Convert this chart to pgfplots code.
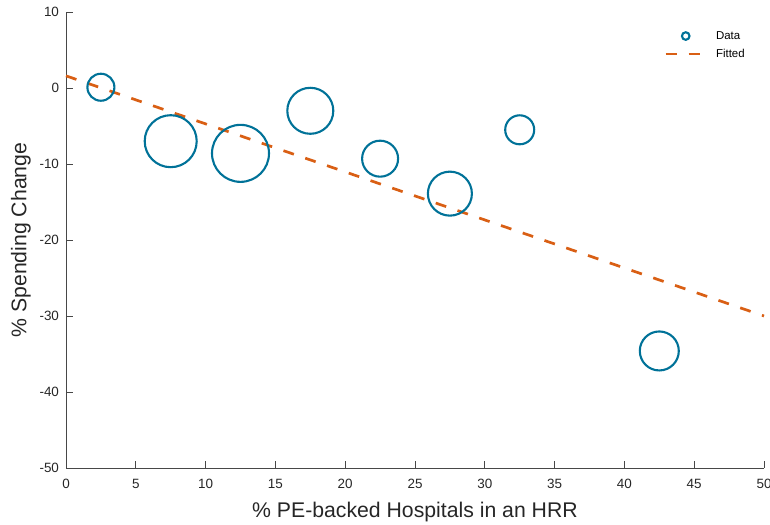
\documentclass[border=0pt]{standalone}
\usepackage{fontspec}
\setmainfont{Liberation Sans}
\usepackage{pgfplots}
\usepackage{pgfplotstable}
\pgfplotsset{compat=1.18}

\definecolor{dataBlue}{RGB}{0,114,152}
\definecolor{fitOrange}{RGB}{217,95,20}
\definecolor{axisGray}{RGB}{38,38,38}

% legend samples: a single ring, and a short dashed segment
\pgfplotsset{
  ringlegend/.style={legend image code/.code={\draw[##1] plot coordinates {(20bp,0bp)};}},
  dashlegend/.style={legend image code/.code={\draw[##1] (0bp,0bp) -- (35bp,0bp);}},
}

% x: share of PE-backed hospitals, y: spending change, r: marker radius (bp)
\pgfplotstableread{
x     y      r
2.5   0.1    13.5
7.5   -7.0   26
12.5  -8.6   28.5
17.5  -3.0   23
22.5  -9.3   18
27.5  -13.9  22
32.5  -5.5   14.5
42.5  -34.6  19.5
}\spending

\begin{document}
\begin{tikzpicture}
\begin{axis}[
  scale only axis,
  width=698bp, height=456bp,
  at={(0,0)}, anchor=south west,
  xmin=0, xmax=50, ymin=-50, ymax=10,
  xtick={0,5,...,50}, ytick={-50,-40,...,10},
  axis lines*=left,
  axis line style={draw=axisGray!85, line width=0.8bp},
  tick style={draw=axisGray!85, line width=0.8bp},
  tick align=inside,
  major tick length=7bp,
  /pgf/number format/assume math mode=true,
  ticklabel style={font=\fontsize{13.5}{16}\selectfont, text=axisGray},
  xticklabel style={anchor=north, yshift=-8bp},
  yticklabel style={anchor=east, xshift=-3.5bp},
  xlabel={\% PE-backed Hospitals in an HRR},
  ylabel={\% Spending Change},
  label style={font=\fontsize{21.3}{25}\selectfont, text=axisGray},
  xlabel style={at={(axis description cs:0.5,-0.1075)}, anchor=base},
  ylabel style={at={(axis description cs:-0.0567,0.5)}, anchor=base, rotate=0},
  legend style={
    at={(axis description cs:0.857,0.958)}, anchor=north west,
    draw=none, fill=none, inner sep=0pt,
    nodes={inner sep=0pt, font=\fontsize{11.5}{13}\selectfont, text=black},
    row sep=8.5bp, column sep=14bp,
  },
  legend cell align=left,
  clip=false,
]
\addlegendimage{dataBlue, line width=2.1bp, mark=o, mark size=3.8bp, ringlegend}
\addlegendentry{Data}
\addlegendimage{fitOrange, line width=2.7bp, dash pattern=on 11bp off 12bp, dashlegend}
\addlegendentry{Fitted}

\addplot[
  scatter, only marks, mark=o,
  scatter/use mapped color={draw=dataBlue},
  mark options={line width=2.1bp},
  visualization depends on={\thisrow{r} \as \markrad},
  scatter/@pre marker code/.append style={/tikz/mark size=\markrad bp},
  forget plot,
] table[x=x, y=y] {\spending};

\addplot[fitOrange, line width=2.7bp, dash pattern=on 11bp off 12bp, forget plot]
  coordinates {(0,1.6) (50,-30.0)};
\end{axis}
\pgfresetboundingbox
\useasboundingbox (-66bp,-57bp) rectangle (704bp,468bp);
\end{tikzpicture}
\end{document}
